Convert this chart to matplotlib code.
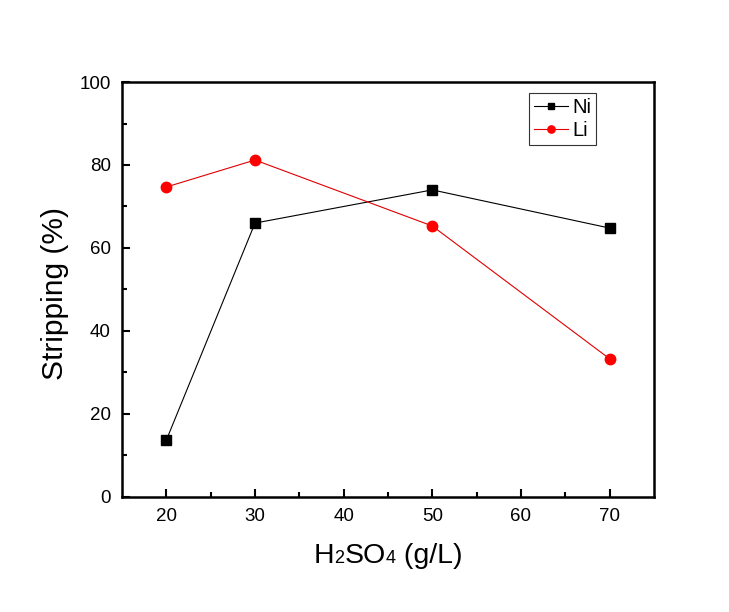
import numpy as np
import matplotlib.pyplot as plt

plt.rcParams['font.family'] = ['Liberation Sans', 'DejaVu Sans']

# data
h2so4 = [20, 30, 50, 70]
ni = [13.7, 66.0, 74.0, 64.8]
li = [74.7, 81.2, 65.3, 33.3]

fig = plt.figure(figsize=(7.29, 6.12), dpi=100)
ax = fig.add_axes([0.1674, 0.188, 0.7296, 0.678])

ax.plot(h2so4, ni, 'k-', marker='s', markersize=7, linewidth=0.8, label='Ni')
ax.plot(h2so4, li, '-', color='#e00000', marker='o', markersize=7.5,
        linewidth=0.8, label='Li', markerfacecolor='red', markeredgecolor='red')

ax.set_xlim(15, 75)
ax.set_ylim(0, 100)
ax.set_xticks([20, 30, 40, 50, 60, 70])
ax.set_xticks([25, 35, 45, 55, 65], minor=True)
ax.set_yticks([0, 20, 40, 60, 80, 100])
ax.set_yticks([10, 30, 50, 70, 90], minor=True)
ax.tick_params(which='both', direction='in', width=1.5, labelsize=13.5, pad=8)
ax.tick_params(which='major', length=6)
ax.tick_params(which='minor', length=3.5)
for s in ax.spines.values():
    s.set_linewidth(1.8)

ax.set_ylabel('Stripping (%)', fontsize=21.5)
ax.yaxis.set_label_coords(-0.10, 0.49)

# x label with subscripts sitting on the baseline (Origin style)
pieces = [('H', 20.5), ('2', 13), ('SO', 20.5), ('4', 13), (' (g/L)', 20.5)]
renderer = fig.canvas.get_renderer()
texts = []
x = 0
for s, size in pieces:
    t = fig.text(x, 49 / 612, s, fontsize=size, va='baseline', ha='left')
    texts.append(t)
    x += t.get_window_extent(renderer).width / fig.bbox.width
x0 = 388 / 729 - x / 2
for t in texts:
    px, py = t.get_position()
    t.set_position((px + x0, py))

leg = ax.legend(loc='upper left', bbox_to_anchor=(0.765, 0.973), fontsize=14.5,
                frameon=True, fancybox=False, handlelength=1.7, markerscale=0.7,
                borderpad=0.25, labelspacing=0.2, handletextpad=0.2,
                borderaxespad=0)
leg.get_frame().set_edgecolor('black')
leg.get_frame().set_linewidth(0.8)

plt.savefig('out.png', dpi=100)
